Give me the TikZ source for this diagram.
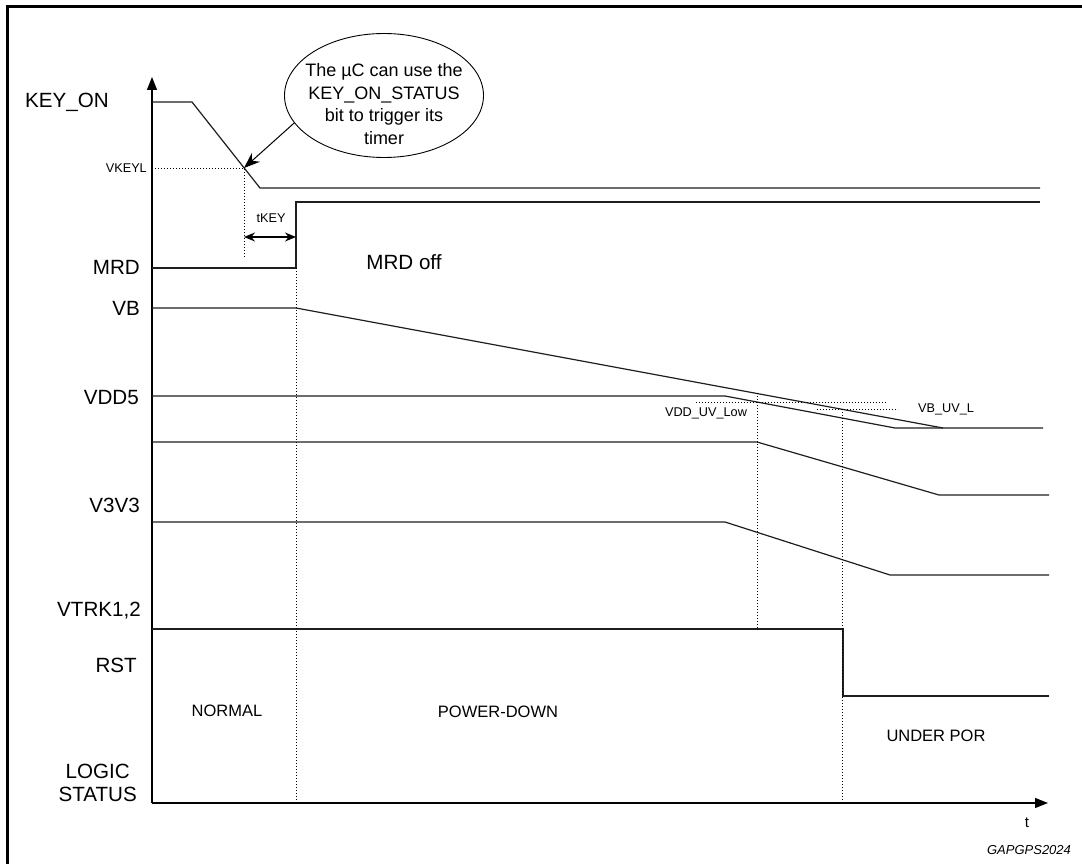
\documentclass[tikz,border=0pt]{standalone}
\usepackage{fontspec}
\setmainfont{Liberation Sans}
\usetikzlibrary{shapes.geometric, arrows.meta, positioning, calc}
\definecolor{cWave}{RGB}{30,30,30}
\tikzset{
	wave/.style     ={cWave, line width=1.2pt, line join=miter},
	guide/.style    ={black, line width=0.9pt, dash pattern=on 0.9pt off 2.1pt},
	signame/.style  ={anchor=east, inner sep=0pt, font=\fontsize{20.6}{23}\selectfont, align=center},
	small/.style    ={inner sep=0pt, font=\fontsize{12.7}{15}\selectfont},
	phase/.style    ={inner sep=0pt, font=\fontsize{16.5}{19}\selectfont},
	axisarrow/.style={-{Triangle[length=13pt, width=10pt]}, line width=1.2pt},
	dimarrow/.style ={{Stealth[length=11pt, width=9pt]}-{Stealth[length=11pt, width=9pt]}, line width=1.2pt},
	callarrow/.style={-{Stealth[length=16pt, width=12pt]}, line width=1pt},
	bubble/.style   ={ellipse, draw, line width=0.9pt, minimum width=199pt, minimum height=124pt, inner sep=0pt},
}

\begin{document}
\begin{tikzpicture}[x=1pt, y=-1pt]
	\useasboundingbox (0,0) rectangle (1082,864);
	% frame
	\draw[line width=2.4pt] (7.5,864) |- (1082,6.5);

	% axes
	\coordinate (origin) at (152,803);
	\coordinate (ytop) at (152,77);
	\coordinate (tend) at (1048,803);
	\draw[axisarrow] (origin) -- (ytop);
	\draw[axisarrow] (origin) -- (tend);
	\node[inner sep=0pt, font=\fontsize{15}{17}\selectfont] (tlab) at (1027,823) {t};
	\node[inner sep=0pt, font=\fontsize{13}{15}\selectfont\itshape] (figid) at (1029,850) {GAPGPS2024};

	% signal names
	\node[signame, anchor=west] (nKey) at (25,102) {KEY\_ON};
	\node[small, anchor=east] (nVkeyl) at (147,168) {VKEYL};
	\node[signame] (nMrd) at (140,267) {MRD};
	\node[signame] (nVb) at (140,308) {VB};
	\node[signame] (nVdd) at (139,398) {VDD5};
	\node[signame] (nV33) at (140,505) {V3V3};
	\node[signame] (nVtrk) at (141,611) {VTRK1,2};
	\node[signame] (nRst) at (137,665) {RST};
	\node[signame] (nLogic) at (137,783) {LOGIC\\STATUS};

	% waveforms
	\draw[wave] (152,102) -- (192,102) -- (260,188) -- (1040,188);
	\draw[wave] (152,268) -- (296,268) -- (296,202) -- (1040,202);
	\draw[wave] (152,308) -- (296,308) -- (943,428) -- (1043,428);
	\draw[wave] (152,396) -- (725,396) -- (895,428) -- (943,428);
	\draw[wave] (152,442) -- (757,442) -- (939,495) -- (1049,495);
	\draw[wave] (152,522) -- (725,522) -- (890,575) -- (1049,575);
	\draw[wave] (152,629) -- (843,629) -- (843,696) -- (1049,696);

	% thresholds and timing marks
	\coordinate (keycross) at (244,168);
	\coordinate (mrdstep) at (296,268);
	\draw[guide] (152,168) -- (keycross) -- (244,257);
	\draw[guide] (mrdstep) -- (296,803);
	\draw[guide] (696,402) -- (887,402);
	\draw[guide] (817,409) -- (898,409);
	\draw[guide] (757,393) -- (757,629);
	\draw[guide] (842,409) -- (842,803);
	\coordinate (tkeyL) at (244,237);
	\coordinate (tkeyR) at (296,237);
	\draw[dimarrow] (tkeyL) -- (tkeyR);
	\node[small] (nTkey) at (271,218) {tKEY};
	\node[small] (nVddUv) at (706,413) {VDD\_UV\_Low};
	\node[small] (nVbUv) at (946,409) {VB\_UV\_L};
	\node[signame, anchor=center] (nMrdOff) at (404,262) {MRD off};

	% callout
	\node[bubble] (bubble) at (384,95.5) {};
	\node[inner sep=0pt, align=center, font=\fontsize{18}{22.6}\selectfont] (bubbletext) at (384,104) {The µC can use the\\KEY\_ON\_STATUS\\bit to trigger its\\timer};
	\draw[callarrow] (bubble.197) -- (keycross);

	% logic phases
	\node[phase] (pNormal) at (227,711) {NORMAL};
	\node[phase] (pDown) at (498,712) {POWER-DOWN};
	\node[phase] (pPor) at (936,736) {UNDER POR};
\end{tikzpicture}
\end{document}
